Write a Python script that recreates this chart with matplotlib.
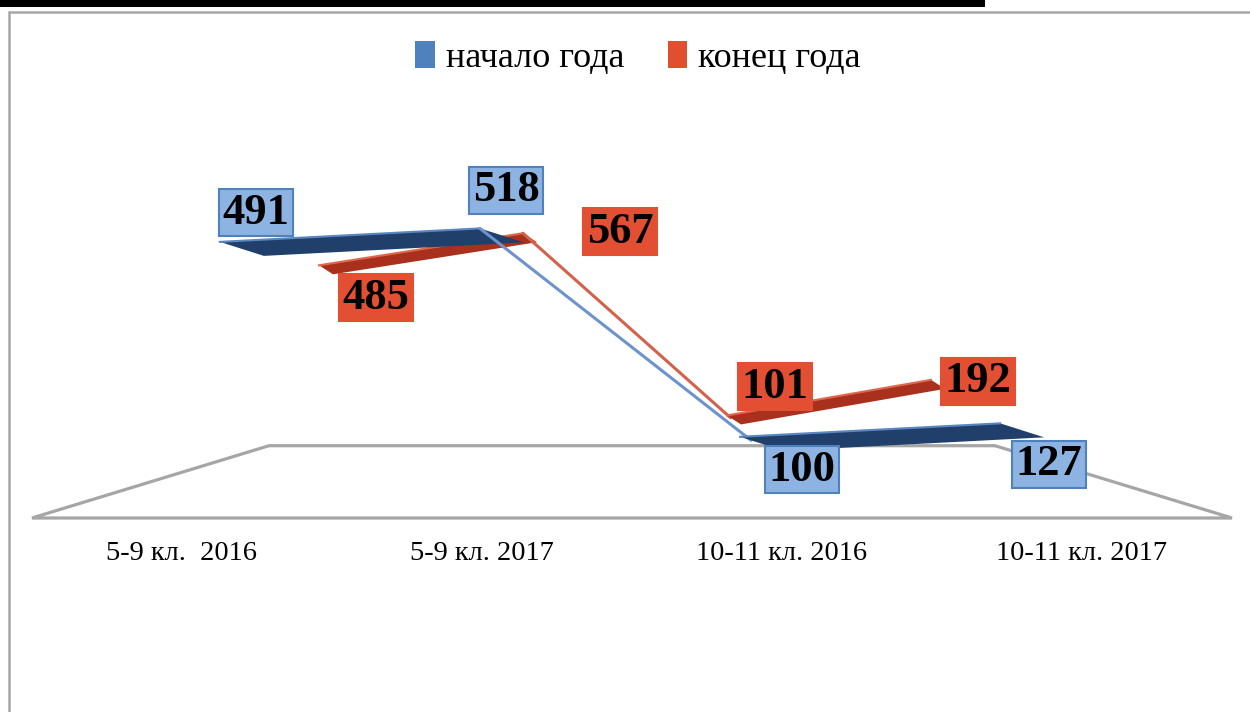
import matplotlib
matplotlib.use('Agg')
import matplotlib.pyplot as plt
import numpy as np
from matplotlib.patches import Polygon, Patch, Rectangle

plt.rcParams['font.family'] = ['Liberation Serif', 'DejaVu Serif']

categories = ['5-9 кл.  2016', '5-9 кл. 2017', '10-11 кл. 2016', '10-11 кл. 2017']
start_year = [491, 518, 100, 127]
end_year = [485, 567, 101, 192]
series_names = ['начало года', 'конец года']

# fake 3d look: every series is shrunk towards a vanishing point
VP = (1.5, 318.3)
PX_X, PX_Y = 300.0, 0.575      # pixels per category / per value unit
W, H = 1250, 712


def project(x, v, s):
    x = np.asarray(x, float)
    v = np.asarray(v, float)
    return VP[0] + s * (x - VP[0]), VP[1] + s * (v - VP[1])


def to_data(dx, dy):
    # pixel offset (right, down) -> data offset
    return dx / PX_X, -dy / PX_Y


def ribbon(ax, values, s, off, face, edge, line, z):
    X, V = project(np.arange(len(values)), values, s)
    ox, oy = to_data(*off)
    for i in range(len(values) - 1):
        dpx = abs(X[i + 1] - X[i]) * PX_X
        dpy = abs(V[i + 1] - V[i]) * PX_Y
        if dpy / dpx > 0.4:
            ax.plot([X[i] - ox / 2, X[i + 1] - ox / 4], [V[i] - oy / 2, V[i + 1] - oy / 4],
                    color=line, lw=2.2, zorder=z, solid_capstyle='round')
        else:
            pts = [(X[i] - ox / 2, V[i] - oy / 2), (X[i + 1] - ox / 2, V[i + 1] - oy / 2),
                   (X[i + 1] + ox / 2, V[i + 1] + oy / 2), (X[i] + ox / 2, V[i] + oy / 2)]
            ax.add_patch(Polygon(pts, closed=True, facecolor=face, edgecolor='none', zorder=z))
            ax.plot([pts[0][0], pts[1][0]], [pts[0][1], pts[1][1]], color=edge, lw=1.5, zorder=z)
    return X, V


fig = plt.figure(figsize=(W / 100, H / 100), dpi=100)
ax = fig.add_axes([0, 0, 1, 1])
ax.set_xlim(VP[0] - 632 / PX_X, VP[0] + (W - 632) / PX_X)
ax.set_ylim((518 - H) / PX_Y, 518 / PX_Y)
ax.axis('off')

# page bits: black rule on top and the chart frame
fig.patches.append(Rectangle((0, 1 - 7 / H), 985 / W, 7 / H, transform=fig.transFigure,
                             facecolor='black', edgecolor='none'))
fig.patches.append(Rectangle((9 / W, -0.1), 1.1, 1.1 - 12 / H, transform=fig.transFigure,
                             facecolor='none', edgecolor='#a6a6a6', lw=1.8))

# floor
s_floor = 0.605
n = len(categories)
bx, bv = project([-0.5, n - 0.5], [0, 0], s_floor)
floor = [(-0.5, 0), (bx[0], bv[0]), (bx[1], bv[1]), (n - 0.5, 0)]
ax.add_patch(Polygon(floor, closed=True, facecolor='none', edgecolor='#a6a6a6', lw=2.3, zorder=1))

for i, c in enumerate(categories):
    ax.annotate(c, (i, 0), xytext=(0, -35), textcoords='offset pixels',
                ha='center', va='center', fontsize=20.5)

# series: red further back, blue in front
Xr, Vr = ribbon(ax, end_year, 0.68, (14, 9), '#a8301c', '#e0664c', '#d4614a', 3)
Xb, Vb = ribbon(ax, start_year, 0.867, (44, 14), '#213f6b', '#5a86c2', '#6d93cf', 4)

blue_shift = [(14, 36), (4, 45), (40, -26), (27, -34)]
red_shift = [(50, -28), (90, 6), (41, 33), (40, 3)]

for X, V, vals, shift, fc, ec in [(Xb, Vb, start_year, blue_shift, '#8db3e2', '#4f81bd'),
                                   (Xr, Vr, end_year, red_shift, '#e34f33', '#e34f33')]:
    for x, v, val, sh in zip(X, V, vals, shift):
        ax.annotate(str(val), (x, v), xytext=sh, textcoords='offset pixels',
                    ha='center', va='center', fontsize=32, fontweight='bold', zorder=6,
                    bbox=dict(boxstyle='square,pad=0.08', facecolor=fc, edgecolor=ec, lw=1.5))

handles = [Patch(facecolor='#4f81bd'), Patch(facecolor='#e0502f')]
fig.legend(handles, series_names, loc='center', bbox_to_anchor=(638 / W, 1 - 58 / H),
           ncol=2, frameon=False, fontsize=26, handlelength=0.55, handleheight=0.75,
           handletextpad=0.3, columnspacing=1.2)

fig.savefig('out.png', dpi=100)
